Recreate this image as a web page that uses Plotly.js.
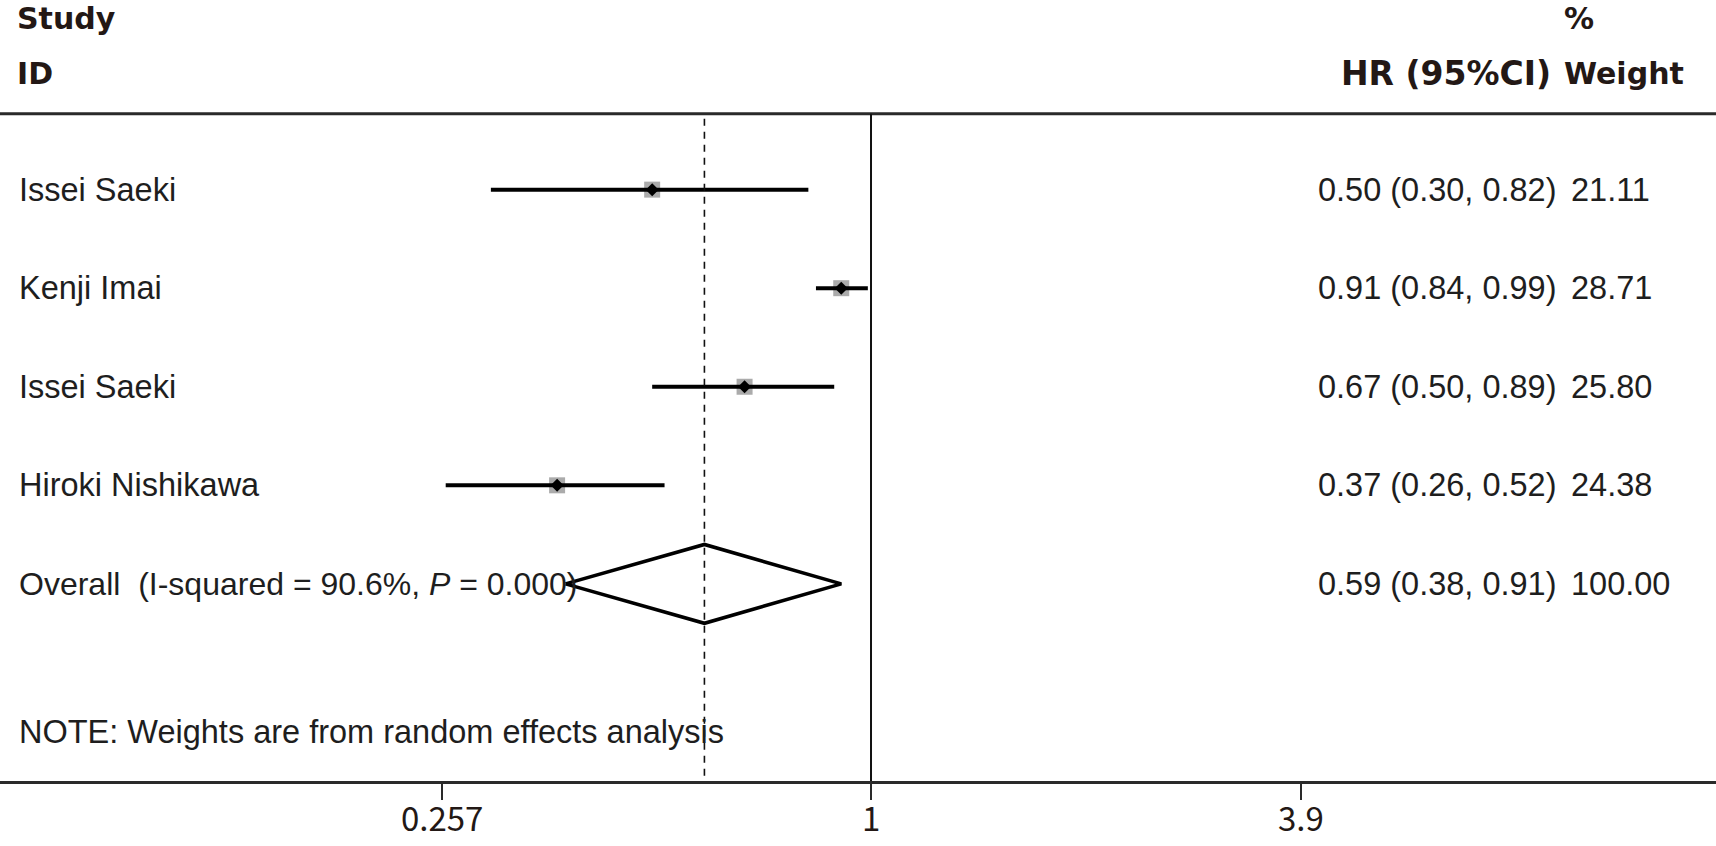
<!DOCTYPE html>
<html>
<head>
<meta charset="utf-8">
<script src="https://cdn.plot.ly/plotly-3.0.1.min.js"></script>
<style>html,body{margin:0;padding:0;background:#fff;}#chart{width:1716px;height:846px;}</style>
</head>
<body>
<div id="chart"></div>
<script>
// ---- data ----
const studies = ['Issei Saeki', 'Kenji Imai', 'Issei Saeki', 'Hiroki Nishikawa'];
const hr = [0.50, 0.91, 0.67, 0.37];
const ciLow = [0.30, 0.84, 0.50, 0.26];
const ciHigh = [0.82, 0.99, 0.89, 0.52];
const weights = [21.11, 28.71, 25.80, 24.38];
const overallLabel = 'Overall  (I-squared = 90.6%, <i>P</i> = 0.000)';
const overallHR = 0.59;
const overallLow = 0.38;
const overallHigh = 0.91;
const overallWeight = 100.00;
const noteText = 'NOTE: Weights are from random effects analysis';
const tickVals = [0.257, 1, 3.9];
const tickText = ['0.257', '1', '3.9'];
const headerLeft = ['Study', 'ID'];
const headerHR = 'HR (95%CI)';
const headerWeight = ['%', 'Weight'];

// ---- layout constants ----
const rows = studies.map((_, i) => i + 1);
const overallRow = studies.length + 1;
const noteRow = overallRow + 1.5;
const headerLineRow = 0.23;
const axisRow = 7;
const yTop = -0.924;
const dkText = '#1e1e1e';
const hdrColor = '#231815';
const labelFont = {family: 'Liberation Sans, Arial, sans-serif', size: 32.5, color: dkText};
const hdrFont = {family: 'DejaVu Sans, Verdana, sans-serif', size: 30, color: hdrColor};
const tickFont = {family: 'Noto Sans CJK SC, DejaVu Sans, sans-serif', size: 33, color: hdrColor};

const fmt = v => v.toFixed(2);

const traces = [];
// weight boxes (gray squares)
traces.push({x: hr, y: rows, mode: 'markers', type: 'scatter',
  marker: {symbol: 'square', size: 16, color: '#ababab'}, hoverinfo: 'skip'});
// CI lines
rows.forEach((r, i) => {
  traces.push({x: [ciLow[i], ciHigh[i]], y: [r, r], mode: 'lines', type: 'scatter',
    line: {color: '#000', width: 4}, hoverinfo: 'skip'});
});
// point estimates
traces.push({x: hr, y: rows, mode: 'markers', type: 'scatter',
  marker: {symbol: 'diamond', size: 10, color: '#000'}, hoverinfo: 'skip'});
// overall diamond
const dh = 0.4;
traces.push({x: [overallLow, overallHR, overallHigh, overallHR, overallLow],
  y: [overallRow, overallRow - dh, overallRow, overallRow + dh, overallRow],
  mode: 'lines', type: 'scatter', fill: 'toself', fillcolor: 'rgba(255,255,255,0)',
  line: {color: '#000', width: 3.6}, hoverinfo: 'skip'});

const annotations = [];
rows.forEach((r, i) => {
  annotations.push({xref: 'paper', yref: 'y', x: 17 / 1716, y: r, xanchor: 'left', yanchor: 'middle',
    text: studies[i], showarrow: false, font: labelFont});
  annotations.push({xref: 'paper', yref: 'y', x: 1316 / 1716, y: r, xanchor: 'left', yanchor: 'middle',
    text: fmt(hr[i]) + ' (' + fmt(ciLow[i]) + ', ' + fmt(ciHigh[i]) + ')', showarrow: false, font: labelFont});
  annotations.push({xref: 'paper', yref: 'y', x: 1569 / 1716, y: r, xanchor: 'left', yanchor: 'middle',
    text: fmt(weights[i]), showarrow: false, font: labelFont});
});
annotations.push({xref: 'paper', yref: 'y', x: 17 / 1716, y: overallRow, xanchor: 'left', yanchor: 'middle',
  text: overallLabel, showarrow: false, font: Object.assign({}, labelFont, {size: 32})});
annotations.push({xref: 'paper', yref: 'y', x: 1316 / 1716, y: overallRow, xanchor: 'left', yanchor: 'middle',
  text: fmt(overallHR) + ' (' + fmt(overallLow) + ', ' + fmt(overallHigh) + ')', showarrow: false, font: labelFont});
annotations.push({xref: 'paper', yref: 'y', x: 1569 / 1716, y: overallRow, xanchor: 'left', yanchor: 'middle',
  text: fmt(overallWeight), showarrow: false, font: labelFont});
annotations.push({xref: 'paper', yref: 'y', x: 17 / 1716, y: noteRow, xanchor: 'left', yanchor: 'middle',
  text: noteText, showarrow: false, font: labelFont});
// headers
annotations.push({xref: 'paper', yref: 'y', x: 15 / 1716, y: -0.74, xanchor: 'left', yanchor: 'middle',
  text: '<b>' + headerLeft[0] + '</b>', showarrow: false, font: hdrFont});
annotations.push({xref: 'paper', yref: 'y', x: 15 / 1716, y: -0.18, xanchor: 'left', yanchor: 'middle',
  text: '<b>' + headerLeft[1] + '</b>', showarrow: false, font: hdrFont});
annotations.push({xref: 'paper', yref: 'y', x: 1553 / 1716, y: -0.18, xanchor: 'right', yanchor: 'middle',
  text: '<b>' + headerHR + '</b>', showarrow: false, font: Object.assign({}, hdrFont, {size: 33})});
annotations.push({xref: 'paper', yref: 'y', x: 1562 / 1716, y: -0.74, xanchor: 'left', yanchor: 'middle',
  text: '<b>' + headerWeight[0] + '</b>', showarrow: false, font: hdrFont});
annotations.push({xref: 'paper', yref: 'y', x: 1562 / 1716, y: -0.18, xanchor: 'left', yanchor: 'middle',
  text: '<b>' + headerWeight[1] + '</b>', showarrow: false, font: hdrFont});
// x tick labels (placed as annotations so they sit inside the page)
tickVals.forEach((v, i) => {
  annotations.push({xref: 'x', yref: 'paper', x: Math.log10(v), y: -0.046, xanchor: 'center', yanchor: 'middle',
    text: tickText[i], showarrow: false, font: tickFont});
});

const shapes = [
  // header rule
  {type: 'line', xref: 'paper', yref: 'y', x0: 0, x1: 1, y0: headerLineRow, y1: headerLineRow,
    line: {color: '#2a2a2a', width: 3}},
  // null line at 1
  {type: 'line', xref: 'x', yref: 'y', x0: 1, x1: 1, y0: headerLineRow, y1: axisRow,
    line: {color: '#111', width: 2}},
  // overall estimate dashed line
  {type: 'line', xref: 'x', yref: 'y', x0: overallHR, x1: overallHR, y0: headerLineRow + 0.05, y1: axisRow,
    line: {color: '#111', width: 1.6, dash: '7px,6px'}}
];

const layout = {
  width: 1716, height: 846,
  margin: {l: 0, r: 0, t: 0, b: 65, pad: 0},
  paper_bgcolor: '#fff', plot_bgcolor: '#fff',
  showlegend: false,
  xaxis: {type: 'log', range: [-1.1981, 1.1623], tickmode: 'array', tickvals: tickVals, ticktext: tickText,
    showticklabels: false,
    showgrid: false, zeroline: false, showline: true, linecolor: '#2a2a2a', linewidth: 2.5,
    ticks: 'outside', ticklen: 16, tickwidth: 2, tickcolor: '#2a2a2a',
    fixedrange: true},
  yaxis: {range: [axisRow, yTop], visible: false, showgrid: false, zeroline: false, fixedrange: true},
  annotations: annotations,
  shapes: shapes
};

Plotly.newPlot('chart', traces, layout, {displayModeBar: false, staticPlot: true});
</script>
</body>
</html>
